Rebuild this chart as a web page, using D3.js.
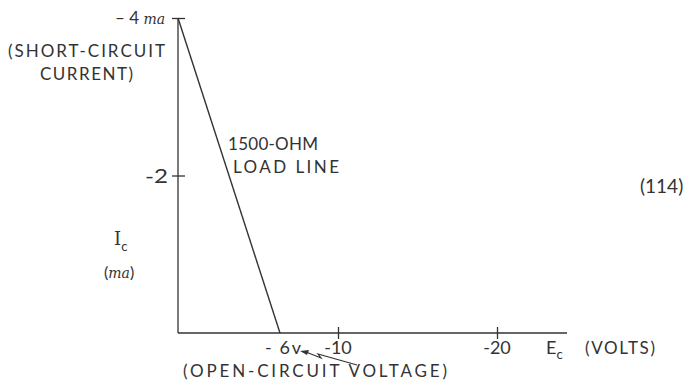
<!DOCTYPE html>
<html>
<head>
<meta charset="utf-8">
<script src="https://cdn.jsdelivr.net/npm/d3@7"></script>
<style>
  html, body { margin: 0; padding: 0; background: #fff; }
  svg { display: block; }
  text { font-family: "Lato", "Open Sans", sans-serif; fill: #333; }
</style>
</head>
<body>
<svg id="chart" width="689" height="385"></svg>
<script>
// ---- data ----
const loadLineVolts = [0, -6];        // Ec (volts)
const loadLineCurrent = [-4, 0];      // Ic (ma)
const xTickValues = [-10, -20];
const xTickLabels = ["-10", "-20"];
const yTickValues = [-2, -4];
const yTickLabels = ["-2", "– 4"];
const xDomain = [0, -6, -10, -20, -24.4];
const yDomain = [0, -4];

const svg = d3.select("#chart");
const x = d3.scaleLinear().domain(xDomain).range([178, 280, 338, 497, 567]);
const y = d3.scaleLinear().domain(yDomain).range([333, 18]);

const ink = "#333";

// x axis
const xAxis = d3.axisBottom(x).tickValues(xTickValues).tickSize(0).tickFormat("");
const gx = svg.append("g").attr("transform", `translate(0,${y(0)})`).call(xAxis);
gx.select(".domain").attr("stroke", ink).attr("stroke-width", 1.3).attr("d", `M${x(0)},0H${x(-24.4)}`);
gx.selectAll(".tick line").attr("stroke", ink).attr("stroke-width", 1.3).attr("y1", -6).attr("y2", 6);

// y axis
const yAxis = d3.axisLeft(y).tickValues(yTickValues).tickSize(0).tickFormat("");
const gy = svg.append("g").attr("transform", `translate(${x(0)},0)`).call(yAxis);
gy.select(".domain").attr("stroke", ink).attr("stroke-width", 1.3).attr("d", `M0,${y(0)}V${y(-4)}`);
gy.selectAll(".tick line").attr("stroke", ink).attr("stroke-width", 1.3).attr("x1", -6).attr("x2", 7);

// load line
const line = d3.line().x((d, i) => x(loadLineVolts[i])).y((d, i) => y(loadLineCurrent[i]));
svg.append("path").datum(loadLineVolts).attr("d", line)
  .attr("fill", "none").attr("stroke", ink).attr("stroke-width", 1.4);

// y tick labels
svg.append("text").attr("x", 145).attr("y", y(-2) + 7).attr("font-size", 19)
  .attr("textLength", 23).attr("lengthAdjust", "spacingAndGlyphs").text(yTickLabels[0]);
const t4 = svg.append("text").attr("x", 165).attr("y", y(-4) + 6).attr("text-anchor", "end").attr("font-size", 17);
t4.append("tspan").text(yTickLabels[1] + " ");
t4.append("tspan").attr("font-family", "DejaVu Serif").attr("font-style", "italic").attr("font-size", 14).text("ma");

svg.append("text").attr("x", 8).attr("y", 57).attr("font-size", 17).attr("textLength", 157).attr("lengthAdjust", "spacing").text("(SHORT-CIRCUIT");
svg.append("text").attr("x", 40).attr("y", 80).attr("font-size", 17).attr("textLength", 93).attr("lengthAdjust", "spacing").text("CURRENT)");

// load line label
svg.append("text").attr("x", 228).attr("y", 150).attr("font-size", 17).attr("textLength", 90).attr("lengthAdjust", "spacing").text("1500-OHM");
svg.append("text").attr("x", 233).attr("y", 173).attr("font-size", 17).attr("textLength", 106).attr("lengthAdjust", "spacing").text("LOAD LINE");

// Ic label
const ic = svg.append("text").attr("x", 114).attr("y", 245).attr("font-size", 18);
ic.append("tspan").attr("font-family", "DejaVu Serif").text("I");
ic.append("tspan").attr("dy", 6).attr("font-size", 13).text("c");
const ma = svg.append("text").attr("x", 104).attr("y", 278).attr("font-size", 16);
ma.append("tspan").text("(");
ma.append("tspan").attr("font-family", "DejaVu Serif").attr("font-style", "italic").attr("font-size", 14).text("ma");
ma.append("tspan").text(")");

// x tick labels
svg.append("text").attr("x", x(-10)).attr("y", 354).attr("text-anchor", "middle").attr("font-size", 18).text(xTickLabels[0]);
svg.append("text").attr("x", x(-20)).attr("y", 354).attr("text-anchor", "middle").attr("font-size", 18).text(xTickLabels[1]);
svg.append("text").attr("x", 265).attr("y", 354).attr("font-size", 18).attr("textLength", 36).attr("lengthAdjust", "spacing").text("- 6v");
svg.append("text").attr("x", 183).attr("y", 377).attr("font-size", 17).attr("textLength", 264).attr("lengthAdjust", "spacing").text("(OPEN-CIRCUIT VOLTAGE)");

// squiggle arrow
svg.append("path").attr("d", "M357,365 L318,354 L321,358 L306,352")
  .attr("fill", "none").attr("stroke", ink).attr("stroke-width", 1.2);
svg.append("path").attr("d", "M300,351 L309,350 L307,355 Z").attr("fill", ink);

// Ec label
const ec = svg.append("text").attr("x", 546).attr("y", 354).attr("font-size", 18);
ec.append("tspan").text("E");
ec.append("tspan").attr("dy", 5).attr("font-size", 13).text("c");
svg.append("text").attr("x", 585).attr("y", 354).attr("font-size", 17).attr("textLength", 70).attr("lengthAdjust", "spacing").text("(VOLTS)");

// equation number
svg.append("text").attr("x", 640).attr("y", 193).attr("font-size", 19).text("(114)");
</script>
</body>
</html>
